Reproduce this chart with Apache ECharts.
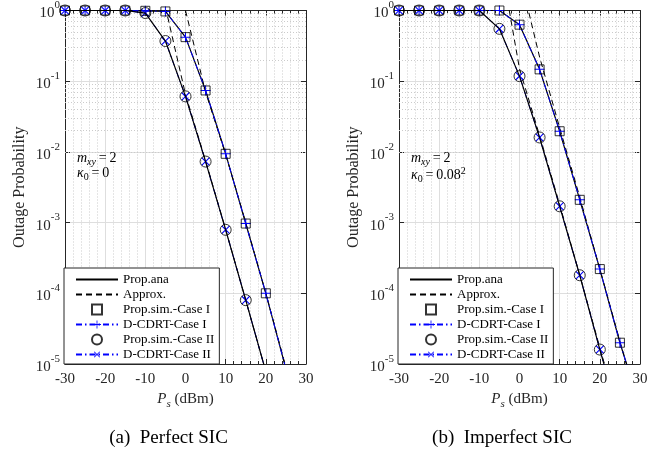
<!DOCTYPE html>
<html><head><meta charset="utf-8">
<script src="https://cdn.jsdelivr.net/npm/echarts@6/dist/echarts.min.js"></script>
<style>html,body{margin:0;padding:0;background:#fff}#c{width:658px;height:453px}</style>
</head><body><div id="c"></div>
<script>
// ---- data ----
const xVals = [-30, -25, -20, -15, -10, -5, 0, 5, 10, 15, 20, 25, 30];
// (a) Perfect SIC
const anaCase1A = [1, 1, 1, 1, 0.99, 0.97, 0.42, 0.074, 0.0094, 0.00097, 0.0001, 0.0000085];
const anaCase2A = [1, 1, 1, 1, 0.92, 0.37, 0.061, 0.0073, 0.00079, 0.00008, 0.0000078];
const simCase1A = [1, 1, 1, 1, 0.99, 0.97, 0.42, 0.074, 0.0094, 0.00097, 0.0001];
const simCase2A = [1, 1, 1, 1, 0.92, 0.37, 0.061, 0.0073, 0.00079, 0.00008];
const cdrtCase1A = [1, 1, 1, 1, 0.99, 0.97, 0.42, 0.074, 0.0094, 0.00097, 0.0001, 0.0000085];
const cdrtCase2A = [1, 1, 1, 1, 0.92, 0.37, 0.061, 0.0073, 0.00079, 0.00008, 0.0000078];
const apxX1A = [0, 5, 10, 15, 20, 25];
const apxCase1A = [1, 0.07, 0.0092, 0.001, 0.0001, 0.000009];
const apxX2A = [-5, 0, 5, 10, 15, 20];
const apxCase2A = [1.12, 0.065, 0.0075, 0.0008, 0.00008, 0.0000078];
// (b) Imperfect SIC
const anaCase1B = [1, 1, 1, 1, 1, 1, 0.63, 0.147, 0.0196, 0.0021, 0.00022, 0.00002, 0.0000025];
const anaCase2B = [1, 1, 1, 1, 1, 0.55, 0.118, 0.016, 0.0017, 0.00018, 0.000016, 0.0000016];
const simCase1B = [1, 1, 1, 1, 1, 1, 0.63, 0.147, 0.0196, 0.0021, 0.00022, 0.00002];
const simCase2B = [1, 1, 1, 1, 1, 0.55, 0.118, 0.016, 0.0017, 0.00018, 0.000016];
const cdrtCase1B = [1, 1, 1, 1, 1, 1, 0.63, 0.147, 0.0196, 0.0021, 0.00022, 0.00002, 0.0000025];
const cdrtCase2B = [1, 1, 1, 1, 1, 0.55, 0.118, 0.016, 0.0017, 0.00018, 0.000016, 0.0000016];
const apxX1B = [0, 5, 10, 15, 20, 25, 30];
const apxCase1B = [3.3, 0.22, 0.022, 0.0023, 0.00022, 0.000021, 0.0000021];
const apxX2B = [-3, 0, 5, 10, 15, 20, 25];
const apxCase2B = [1.4, 0.15, 0.017, 0.0018, 0.00018, 0.000017, 0.0000017];
const legendNames = ['Prop.ana', 'Approx.', 'Prop.sim.-Case I', 'D-CDRT-Case I', 'Prop.sim.-Case II', 'D-CDRT-Case II'];
const captions = ['(a)  Perfect SIC', '(b)  Imperfect SIC'];

// ---- styling ----
const SERIF = 'Liberation Serif';
const AX = '#262626';
const BLUE = '#0000ff';
const plusPath = 'path://M4.5,0H5.5V4.5H10V5.5H5.5V10H4.5V5.5H0V4.5H4.5Z';
const squarePath = 'path://M0,0H10V10H0Z';
const pairs = (xs, ys) => ys.map((y, i) => [xs[i], y]);

const minorY = [];
for (let e = -5; e < 0; e++) for (let k = 2; k <= 9; k++) minorY.push({ yAxis: k * Math.pow(10, e) });

const grids = [
  { left: 65, top: 10, width: 241, height: 354 },
  { left: 399, top: 10, width: 241, height: 354 }
];
const MINOR = { color: '#cbcbcb', width: 1, type: [1, 2] };

function xAxisDef(gi, pos) {
  const main = pos === 'bottom';
  return {
    type: 'value', gridIndex: gi, position: pos, min: -30, max: 30, interval: 10,
    axisLine: { show: true, onZero: false, lineStyle: { color: AX, width: 1 } },
    axisTick: { show: true, inside: true, length: 5, lineStyle: { color: AX } },
    minorTick: { show: true, splitNumber: 5, length: 3, lineStyle: { color: AX } },
    axisLabel: main ? { show: true, color: AX, fontFamily: SERIF, fontSize: 15, margin: 8 } : { show: false },
    splitLine: { show: main, lineStyle: { color: '#dedede', width: 1 } },
    minorSplitLine: { show: main, lineStyle: MINOR },
    name: main ? '{i|P}{sub|s}{t| (dBm)}' : '',
    nameLocation: 'middle', nameGap: 23,
    nameTextStyle: {
      rich: {
        i: { fontFamily: SERIF, fontStyle: 'italic', fontSize: 15, color: AX, lineHeight: 20, verticalAlign: 'middle' },
        sub: { fontFamily: SERIF, fontStyle: 'italic', fontSize: 11, color: AX, lineHeight: 10, verticalAlign: 'bottom' },
        t: { fontFamily: SERIF, fontSize: 15, color: AX, lineHeight: 20, verticalAlign: 'middle' }
      }
    }
  };
}
function yAxisDef(gi, pos) {
  const main = pos === 'left';
  return {
    type: 'log', logBase: 10, gridIndex: gi, position: pos, min: 0.00001, max: 1, splitNumber: 5,
    axisLine: { show: true, onZero: false, lineStyle: { color: AX, width: 1 } },
    axisTick: { show: true, inside: true, length: 5, lineStyle: { color: AX } },
    axisLabel: main ? {
      show: true, margin: 5,
      formatter: v => '{b|10}{s|' + Math.round(Math.log10(v)) + '}',
      rich: {
        b: { fontFamily: SERIF, fontSize: 15, color: AX, lineHeight: 21, verticalAlign: 'bottom' },
        s: { fontFamily: SERIF, fontSize: 11, color: AX, lineHeight: 12, verticalAlign: 'top' }
      }
    } : { show: false },
    splitLine: { show: main, lineStyle: { color: '#dedede', width: 1 } },
    name: main ? 'Outage Probability' : '',
    nameLocation: 'middle', nameGap: 37,
    nameTextStyle: { fontFamily: SERIF, fontSize: 16, color: AX }
  };
}

function seriesFor(gi, d) {
  const xi = gi * 2, yi = gi * 2;
  const base = { xAxisIndex: xi, yAxisIndex: yi, animation: false };
  const hidden = { symbol: 'circle', showSymbol: false, itemStyle: { color: 'rgba(0,0,0,0)' } };
  return [
    Object.assign({}, base, hidden, {
      name: 'Approx.', type: 'line', data: pairs(d.apxX1, d.apx1), z: 2,
      lineStyle: { color: '#000', width: 1, type: [6, 4] },
      markLine: {
        silent: true, symbol: ['none', 'none'], z: 1, animation: false,
        label: { show: false }, lineStyle: MINOR,
        emphasis: { disabled: true }, data: minorY
      }
    }),
    Object.assign({}, base, hidden, {
      name: 'Approx.', type: 'line', data: pairs(d.apxX2, d.apx2), z: 2,
      lineStyle: { color: '#000', width: 1, type: [6, 4] }
    }),
    Object.assign({}, base, hidden, {
      name: 'Prop.ana', type: 'line', data: pairs(xVals, d.ana1), z: 3,
      lineStyle: { color: '#000', width: 1.2 }
    }),
    Object.assign({}, base, {
      name: 'D-CDRT-Case I', type: 'line', data: pairs(xVals, d.cdrt1), z: 4,
      symbol: plusPath, symbolSize: 10, showAllSymbol: true,
      lineStyle: { color: BLUE, width: 1, type: [6, 3, 1.5, 3] }, itemStyle: { color: BLUE, borderWidth: 0 }
    }),
    Object.assign({}, base, {
      name: 'D-CDRT-Case II', type: 'line', data: pairs(xVals, d.cdrt2), z: 4,
      symbol: plusPath, symbolSize: 11, symbolRotate: 45, showAllSymbol: true,
      lineStyle: { color: BLUE, width: 1, type: [6, 3, 1.5, 3] }, itemStyle: { color: BLUE, borderWidth: 0 }
    }),
    Object.assign({}, base, hidden, {
      name: 'Prop.ana', type: 'line', data: pairs(xVals, d.ana2), z: 5,
      lineStyle: { color: '#000', width: 1.2 }
    }),
    Object.assign({}, base, {
      name: 'Prop.sim.-Case I', type: 'scatter', data: pairs(xVals, d.sim1), z: 6,
      symbol: squarePath, symbolSize: 9, symbolKeepAspect: true,
      itemStyle: { color: 'rgba(0,0,0,0)', borderColor: '#000', borderWidth: 1 }
    }),
    Object.assign({}, base, {
      name: 'Prop.sim.-Case II', type: 'scatter', data: pairs(xVals, d.sim2), z: 6,
      symbol: 'circle', symbolSize: 11, symbolKeepAspect: true,
      itemStyle: { color: 'rgba(0,0,0,0)', borderColor: '#000', borderWidth: 1 }
    })
  ];
}

const dataA = { ana1: anaCase1A, ana2: anaCase2A, sim1: simCase1A, sim2: simCase2A, cdrt1: cdrtCase1A, cdrt2: cdrtCase2A,
  apxX1: apxX1A, apx1: apxCase1A, apxX2: apxX2A, apx2: apxCase2A };
const dataB = { ana1: anaCase1B, ana2: anaCase2B, sim1: simCase1B, sim2: simCase2B, cdrt1: cdrtCase1B, cdrt2: cdrtCase2B,
  apxX1: apxX1B, apx1: apxCase1B, apxX2: apxX2B, apx2: apxCase2B };

function legendDef(left) {
  return {
    orient: 'vertical', left: left, bottom: 89, data: legendNames, selectedMode: false,
    backgroundColor: '#fff', borderColor: AX, borderWidth: 1, borderRadius: 0,
    padding: [5, 5, 3, 11], itemGap: 2, itemWidth: 42, itemHeight: 10, symbolKeepAspect: true,
    textStyle: { fontFamily: SERIF, fontSize: 13, color: '#000', lineHeight: 13 }
  };
}

const annRich = {
  m: { fontFamily: SERIF, fontStyle: 'italic', fontSize: 14, color: AX, lineHeight: 18, verticalAlign: 'middle' },
  n: { fontFamily: SERIF, fontSize: 14, color: AX, lineHeight: 18, verticalAlign: 'middle' },
  sub: { fontFamily: SERIF, fontStyle: 'italic', fontSize: 10, color: AX, lineHeight: 9, verticalAlign: 'bottom' },
  subn: { fontFamily: SERIF, fontSize: 10, color: AX, lineHeight: 9, verticalAlign: 'bottom' },
  sup: { fontFamily: SERIF, fontSize: 10, color: AX, lineHeight: 9, verticalAlign: 'top' }
};
function annText(x, y, txt) {
  return { type: 'text', left: x, top: y, z: 100, style: { text: txt, rich: annRich } };
}
function caption(cx, txt) {
  return { type: 'text', x: cx, y: 438, z: 100,
    style: { text: txt, fontFamily: SERIF, fontSize: 19, fill: '#000', align: 'center', verticalAlign: 'middle' } };
}

const option = {
  animation: false,
  backgroundColor: '#fff',
  grid: grids,
  xAxis: [xAxisDef(0, 'bottom'), xAxisDef(0, 'top'), xAxisDef(1, 'bottom'), xAxisDef(1, 'top')],
  yAxis: [yAxisDef(0, 'left'), yAxisDef(0, 'right'), yAxisDef(1, 'left'), yAxisDef(1, 'right')],
  legend: [legendDef(64), legendDef(398)],
  series: seriesFor(0, dataA).concat(seriesFor(1, dataB)),
  graphic: [
    annText(77, 151, '{m|m}{sub|xy}{n|\u2009=\u20092}'),
    annText(77, 166, '{m|κ}{subn|0}{n|\u2009=\u20090}'),
    annText(411, 151, '{m|m}{sub|xy}{n|\u2009=\u20092}'),
    annText(411, 166, '{m|κ}{subn|0}{n|\u2009=\u20090.08}{sup|2}'),
    caption(168.5, captions[0]),
    caption(502, captions[1])
  ]
};
const chart = echarts.init(document.getElementById('c'), null, { renderer: 'canvas' });
chart.setOption(option);
</script></body></html>
